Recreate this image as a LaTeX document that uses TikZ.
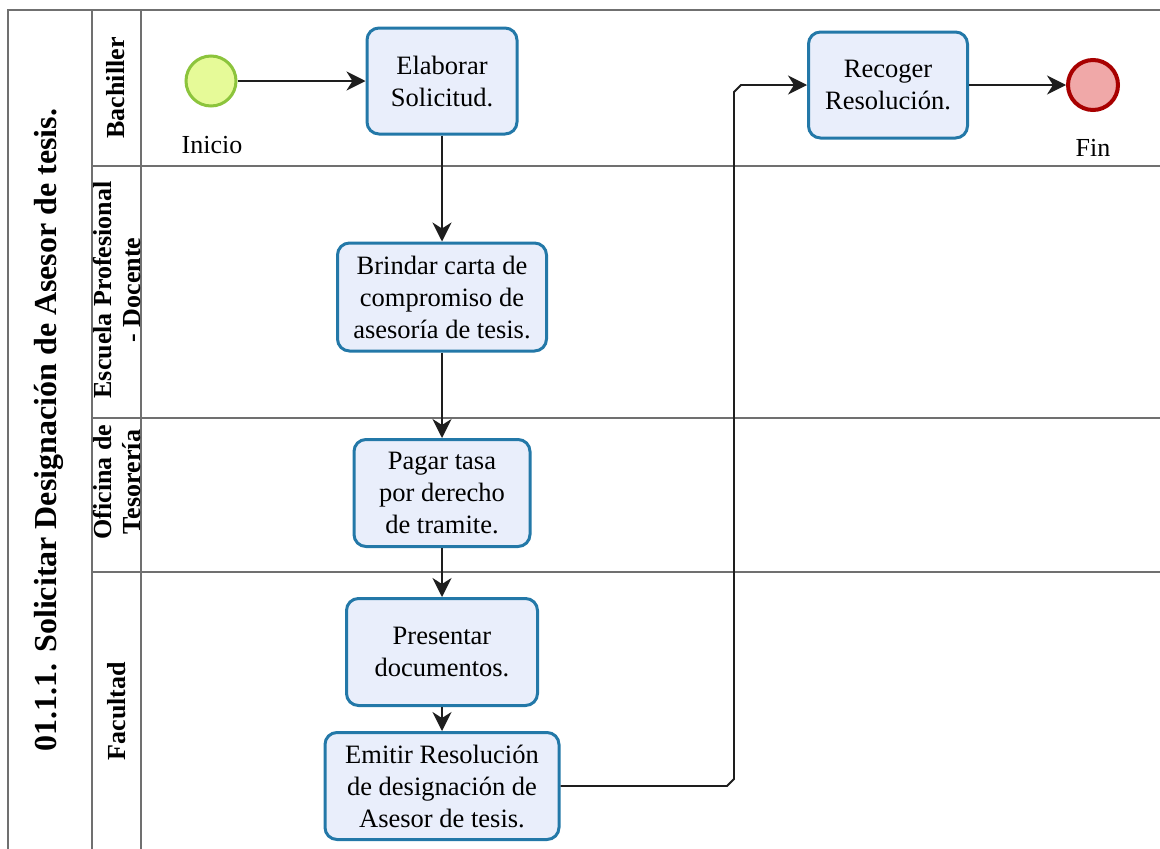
\documentclass[tikz,border=0pt]{standalone}
\usepackage{fontspec}
\setmainfont{Liberation Serif}
\usetikzlibrary{arrows.meta}
\definecolor{taskborder}{HTML}{2378A8}
\definecolor{taskfill}{HTML}{E9EEFB}
\definecolor{flowgray}{HTML}{1E1E1E}
\definecolor{poolgray}{HTML}{707070}
\definecolor{startborder}{HTML}{8CC43C}
\definecolor{startfill}{HTML}{E6FA98}
\definecolor{endborder}{HTML}{A80000}
\definecolor{endfill}{HTML}{F0A8A8}
\begin{document}
\begin{tikzpicture}[x=1pt,y=-1pt,
  task/.style={draw=taskborder, line width=3pt, fill=taskfill, rounded corners=12pt,
    align=center, inner sep=0pt, font=\fontsize{26.5}{32}\selectfont},
  flow/.style={draw=flowgray, line width=1.8pt, -{Stealth[length=19pt,width=19pt,inset=6pt]}},
  poolline/.style={draw=poolgray, line width=2pt},
  lanelabel/.style={rotate=90, align=center, inner sep=0pt, font=\bfseries\fontsize{26}{29}\selectfont},
  evlabel/.style={font=\fontsize{26}{30}\selectfont, inner sep=0pt},
]
\useasboundingbox (0,0) rectangle (1160,849);
\fill[white] (0,0) rectangle (1160,849);

% pool and lanes
\draw[poolline] (1160,10) -- (8,10) -- (8,849);
\draw[poolline] (92,10) -- (92,849);
\draw[poolline] (141,10) -- (141,849);
\draw[poolline] (92,166) -- (1160,166);
\draw[poolline] (92,418) -- (1160,418);
\draw[poolline] (92,572) -- (1160,572);

\node[rotate=90, inner sep=0pt, font=\bfseries\fontsize{32}{36}\selectfont] (pool) at (49,430)
  {01.1.1. Solicitar Designación de Asesor de tesis.};
\node[lanelabel] (lbach) at (116,88) {Bachiller};
\node[lanelabel] (lesc) at (117,290) {Escuela Profesional\\- Docente};
\node[lanelabel] (lofi) at (117,482) {Oficina de\\Tesorería};
\node[lanelabel] (lfac) at (117,711) {Facultad};

% events
\node[circle, draw=startborder, fill=startfill, line width=3pt, minimum size=50pt, inner sep=0pt] (inicio) at (211,81) {};
\node[evlabel] (inicioL) at (212,145) {Inicio};
\node[circle, draw=endborder, fill=endfill, line width=4pt, minimum size=50pt, inner sep=0pt] (fin) at (1093,85) {};
\node[evlabel] (finL) at (1093,148) {Fin};

% tasks
\node[task, minimum width=150pt, minimum height=106pt] (elaborar) at (442,81) {Elaborar\\Solicitud.};
\node[task, minimum width=159pt, minimum height=106pt] (recoger) at (888,85) {Recoger\\Resolución.};
\node[task, minimum width=209pt, minimum height=108pt] (brindar) at (442,297) {Brindar carta de\\compromiso de\\asesoría de tesis.};
\node[task, minimum width=176pt, minimum height=107pt] (pagar) at (442,493) {Pagar tasa\\por derecho\\de tramite.};
\node[task, minimum width=191pt, minimum height=107pt] (presentar) at (442,652) {Presentar\\documentos.};
\node[task, minimum width=234pt, minimum height=107pt] (emitir) at (442,786) {Emitir Resolución\\de designación de\\Asesor de tesis.};

% sequence flows
\draw[flow] (inicio) -- (elaborar);
\draw[flow] (elaborar) -- (brindar);
\draw[flow] (brindar) -- (pagar);
\draw[flow] (pagar) -- (presentar);
\draw[flow] (presentar) -- (emitir);
\draw[flow] (emitir.east) -- (727,786) -- (734,779) -- (734,92) -- (741,85) -- (recoger.west);
\draw[flow] (recoger) -- (fin);
\end{tikzpicture}
\end{document}
